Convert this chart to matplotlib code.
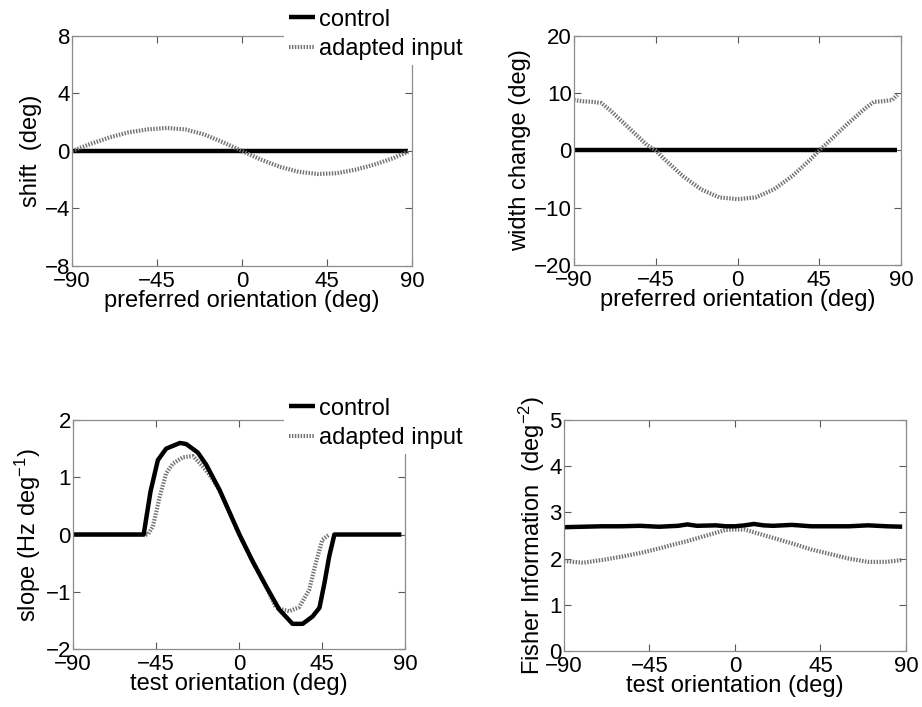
import matplotlib
matplotlib.use("Agg")
import matplotlib.pyplot as plt

plt.rcParams["font.family"] = ["Liberation Sans", "DejaVu Sans"]
plt.rcParams["mathtext.fontset"] = "custom"
plt.rcParams["mathtext.rm"] = "Liberation Sans"
plt.rcParams["mathtext.it"] = "Liberation Sans:italic"
plt.rcParams["font.size"] = 17
plt.rcParams["xtick.labelsize"] = 16
plt.rcParams["ytick.labelsize"] = 16

# --- data ---
shift_x = [-90, -80, -70, -60, -50, -40, -30, -20, -10, 0, 10, 20, 30, 40, 50, 60, 70, 80, 88]
shift_ctrl = [0] * len(shift_x)
shift_adapt = [0.0, 0.5, 0.95, 1.3, 1.5, 1.6, 1.5, 1.15, 0.6, 0.0,
               -0.6, -1.1, -1.45, -1.6, -1.55, -1.3, -0.95, -0.5, -0.05]

width_x = [-90, -85, -80, -75, -70, -60, -50, -45, -40, -30, -20, -10, 0,
           10, 20, 30, 40, 45, 50, 60, 70, 75, 80, 85, 88]
width_ctrl = [0] * len(width_x)
width_adapt = [8.8, 8.6, 8.5, 8.3, 7.0, 4.0, 1.0, 0.0, -1.6, -4.5, -6.8, -8.2, -8.5,
               -8.2, -6.8, -4.5, -1.6, 0.0, 1.5, 4.5, 7.3, 8.5, 8.6, 8.8, 9.7]

slope_ctrl_x = [-90, -70, -60, -51.7, -48, -44, -39.5, -32, -28.6, -22.3, -17.8, -10.6, 0.2,
                7.4, 14.6, 21.8, 29, 34.5, 39.9, 43.6, 46.3, 48.9, 51.7, 60, 70, 80, 88]
slope_ctrl = [0.0, 0.0, 0.0, 0.0, 0.75, 1.3, 1.5, 1.6, 1.58, 1.43, 1.22, 0.78, 0.0,
              -0.47, -0.9, -1.31, -1.56, -1.56, -1.43, -1.28, -0.85, -0.38, 0.0, 0.0, 0.0, 0.0, 0.0]

slope_adapt_x = [-90, -70, -49.4, -46.7, -43, -39.5, -35.8, -30.4, -25, -19.6, -15, -10.6, 0.2,
                 7.4, 14.6, 20, 27.1, 32.6, 38, 41.6, 45.2, 48.9]
slope_adapt = [0.0, 0.0, 0.0, 0.14, 0.66, 1.07, 1.24, 1.35, 1.37, 1.19, 1.0, 0.78, 0.0,
               -0.47, -0.9, -1.28, -1.34, -1.27, -0.97, -0.5, -0.09, 0.0]

fisher_x = [-90, -80, -70, -60, -50, -40, -30, -25, -20, -10, -5, 0, 5, 10, 15,
            20, 30, 40, 50, 60, 70, 80, 88]
fisher_ctrl = [2.68, 2.69, 2.70, 2.70, 2.71, 2.69, 2.71, 2.74, 2.71, 2.72, 2.70, 2.70,
               2.72, 2.75, 2.72, 2.71, 2.73, 2.70, 2.70, 2.70, 2.72, 2.70, 2.69]
fisher_adapt = [1.95, 1.91, 1.97, 2.04, 2.12, 2.22, 2.33, 2.38, 2.44, 2.56, 2.62, 2.63,
                2.63, 2.57, 2.51, 2.45, 2.33, 2.2, 2.1, 2.0, 1.93, 1.93, 1.97]

xticks = [-90, -45, 0, 45, 90]
labels = ["control", "adapted input"]

ctrl_style = dict(color="black", lw=3.2, solid_capstyle="butt")
adapt_style = dict(color="0.45", lw=3.0, linestyle=(0, (0.35, 0.35)))


def style_axes(ax, ylim, yticks, xlabel, ylabel):
    ax.set_xlim(-90, 90)
    ax.set_ylim(*ylim)
    ax.set_xticks(xticks)
    ax.set_yticks(yticks)
    ax.tick_params(direction="in", top=True, right=True, length=5, width=0.8,
                   color="0.35")
    ax.tick_params(axis="x", pad=3.5)
    ax.tick_params(axis="y", pad=1.5)
    for sp in ax.spines.values():
        sp.set_color("0.55")
        sp.set_linewidth(0.9)
    ax.set_xlabel(xlabel, labelpad=-1)
    ax.set_ylabel(ylabel, labelpad=2)


fig = plt.figure(figsize=(9.22, 7.07), dpi=100)

ax1 = fig.add_axes([0.0781, 0.6238, 0.3688, 0.3253])
ax2 = fig.add_axes([0.6226, 0.6252, 0.3547, 0.3239])
ax3 = fig.add_axes([0.0792, 0.0820, 0.3601, 0.3239])
ax4 = fig.add_axes([0.6117, 0.0792, 0.3709, 0.3267])

l1, = ax1.plot(shift_x, shift_ctrl, **ctrl_style)
l2, = ax1.plot(shift_x, shift_adapt, **adapt_style)
style_axes(ax1, (-8, 8), [-8, -4, 0, 4, 8], "preferred orientation (deg)", "shift  (deg)")

ax2.plot(width_x, width_ctrl, **ctrl_style)
ax2.plot(width_x, width_adapt, **adapt_style)
style_axes(ax2, (-20, 20), [-20, -10, 0, 10, 20], "preferred orientation (deg)", "width change (deg)")

ax3.plot(slope_adapt_x, slope_adapt, **adapt_style)
ax3.plot(slope_ctrl_x, slope_ctrl, **ctrl_style)
style_axes(ax3, (-2, 2), [-2, -1, 0, 1, 2], "test orientation (deg)", r"slope (Hz deg$^{-1}$)")

ax4.plot(fisher_x, fisher_adapt, **adapt_style)
ax4.plot(fisher_x, fisher_ctrl, **ctrl_style)
style_axes(ax4, (0, 5), [0, 1, 2, 3, 4, 5], "test orientation (deg)", r"Fisher Information  (deg$^{-2}$)")

for anchor in [(284 / 922, 1 - 4 / 707), (284 / 922, 1 - 393 / 707)]:
    leg = fig.legend([l1, l2], labels, loc="upper left", bbox_to_anchor=anchor,
                     frameon=True, fancybox=False, edgecolor="white", framealpha=1,
                     handlelength=1.1, handletextpad=0.2, labelspacing=0.3,
                     borderpad=0.2, borderaxespad=0)
    leg.get_frame().set_linewidth(0)

fig.savefig("out.png", dpi=100)
